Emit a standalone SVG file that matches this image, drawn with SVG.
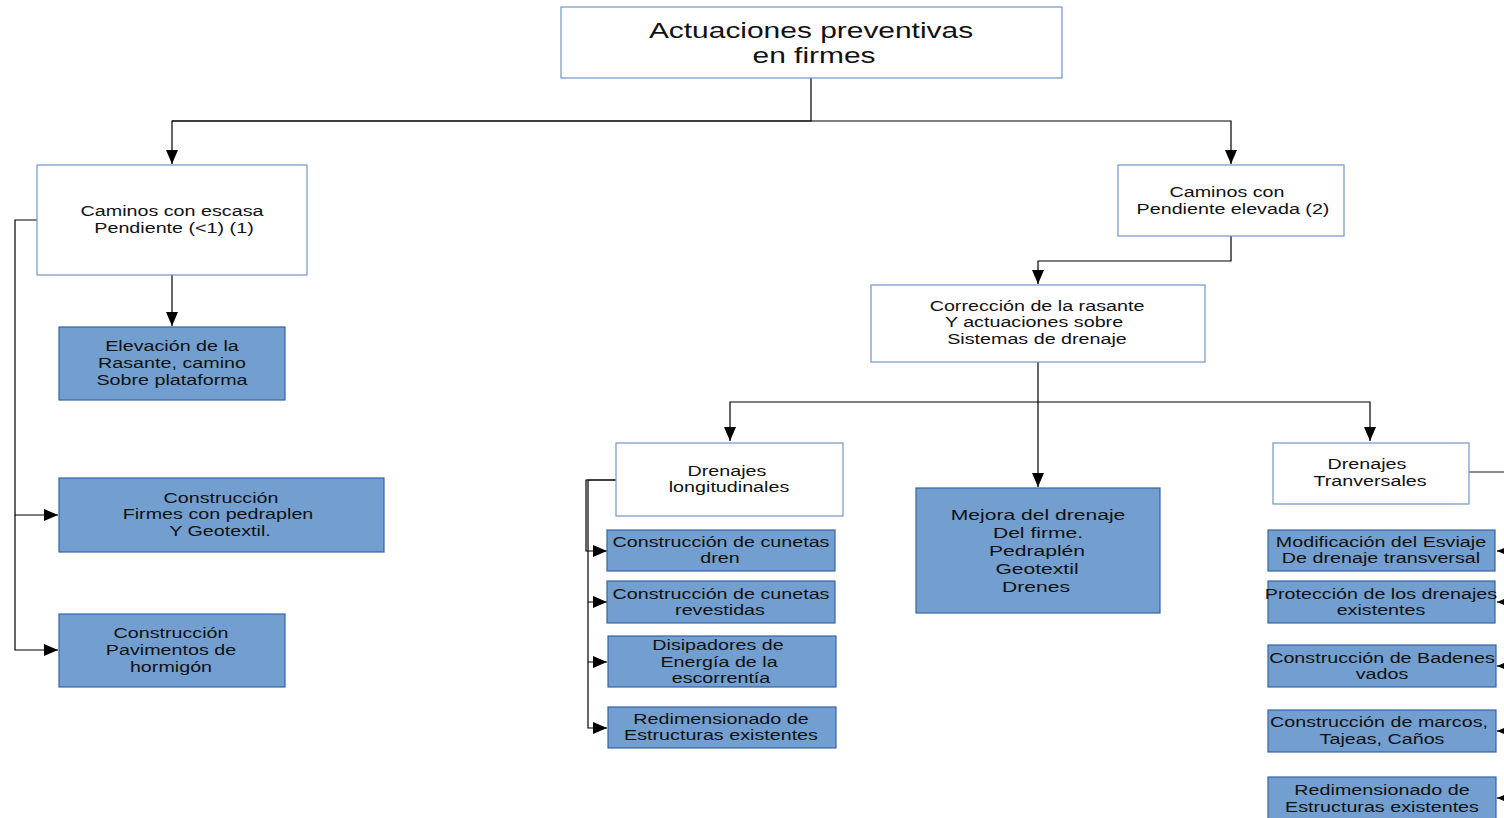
<svg xmlns="http://www.w3.org/2000/svg" width="1504" height="818" viewBox="0 0 1504 818">
<defs>
<marker id="arr" markerUnits="userSpaceOnUse" markerWidth="15" markerHeight="13" refX="14" refY="6" orient="auto">
<path d="M0,0 L14,6 L0,12 z" fill="#000"/>
</marker>
<style>
.w{fill:#fff;stroke:#7295c8;stroke-width:1.2}
.b{fill:#729fcf;stroke:#3465a4;stroke-width:1.2}
text{font-family:"Liberation Sans",Arial,sans-serif;fill:#111;text-anchor:middle}
.s{font-size:14.5px}
.m{font-size:15.5px}
.t{font-size:22px}
.c{fill:none;stroke:#000;stroke-width:1.2}
.ca{fill:none;stroke:#000;stroke-width:1.2;marker-end:url(#arr)}
</style>
</defs>
<rect width="1504" height="818" fill="#fff"/>
<g id="connectors">
<path class="c" d="M811,78 V121 H172"/>
<path class="ca" d="M811,121 H172 V164"/>
<path class="ca" d="M811,121 H1231 V164"/>
<path class="ca" d="M172,275 V326"/>
<path class="ca" d="M37,220 H15 V515 H58"/>
<path class="ca" d="M15,515 V650 H58"/>
<path class="ca" d="M1231,236 V261 H1038 V284"/>
<path class="ca" d="M1038,362 V487"/>
<path class="ca" d="M1038,402 H730 V441"/>
<path class="ca" d="M1038,402 H1370 V441"/>
<path class="ca" d="M616,480 H586 V551 H607"/>
<path class="ca" d="M616,480 H588 V602 H607"/>
<path class="ca" d="M588,602 V662 H607"/>
<path class="ca" d="M588,662 V728 H607"/>
<path fill="none" stroke="#666" stroke-width="1.4" d="M1469,472 H1510"/>
<path class="ca" d="M1515,551 H1497"/>
<path class="ca" d="M1515,602 H1497"/>
<path class="ca" d="M1515,666 H1497"/>
<path class="ca" d="M1515,731 H1497"/>
<path class="ca" d="M1515,798 H1497"/>
</g>
<g id="n-root">
<rect class="w" x="561" y="7" width="501" height="71"/>
<text class="t" transform="translate(811,0) scale(1.36,1)" x="0" y="38">Actuaciones preventivas</text>
<text class="t" transform="translate(814,0) scale(1.36,1)" x="0" y="63">en firmes</text>
</g>
<g id="n-escasa">
<rect class="w" x="37" y="165" width="270" height="110"/>
<text class="s" transform="translate(172,0) scale(1.36,1)" x="0" y="216">Caminos con escasa</text>
<text class="s" transform="translate(174,0) scale(1.36,1)" x="0" y="233">Pendiente (&lt;1) (1)</text>
</g>
<g id="n-elevacion">
<rect class="b" x="59" y="327" width="226" height="73"/>
<text class="s" transform="translate(172,0) scale(1.36,1)" x="0" y="351">Elevación de la</text>
<text class="s" transform="translate(172,0) scale(1.36,1)" x="0" y="368">Rasante, camino</text>
<text class="s" transform="translate(172,0) scale(1.36,1)" x="0" y="385">Sobre plataforma</text>
</g>
<g id="n-firmes">
<rect class="b" x="59" y="478" width="325" height="74"/>
<text class="s" transform="translate(221,0) scale(1.36,1)" x="0" y="503">Construcción</text>
<text class="s" transform="translate(218,0) scale(1.36,1)" x="0" y="519">Firmes con pedraplen</text>
<text class="s" transform="translate(220,0) scale(1.36,1)" x="0" y="536">Y Geotextil.</text>
</g>
<g id="n-pavimentos">
<rect class="b" x="59" y="614" width="226" height="73"/>
<text class="s" transform="translate(171,0) scale(1.36,1)" x="0" y="638">Construcción</text>
<text class="s" transform="translate(171,0) scale(1.36,1)" x="0" y="655">Pavimentos de</text>
<text class="s" transform="translate(171,0) scale(1.36,1)" x="0" y="672">hormigón</text>
</g>
<g id="n-elevada">
<rect class="w" x="1118" y="165" width="226" height="71"/>
<text class="s" transform="translate(1227,0) scale(1.36,1)" x="0" y="197">Caminos con</text>
<text class="s" transform="translate(1233,0) scale(1.36,1)" x="0" y="214">Pendiente elevada (2)</text>
</g>
<g id="n-correccion">
<rect class="w" x="871" y="285" width="334" height="77"/>
<text class="s" transform="translate(1037,0) scale(1.36,1)" x="0" y="311">Corrección de la rasante</text>
<text class="s" transform="translate(1034,0) scale(1.36,1)" x="0" y="327">Y actuaciones sobre</text>
<text class="s" transform="translate(1037,0) scale(1.36,1)" x="0" y="344">Sistemas de drenaje</text>
</g>
<g id="n-longitudinales">
<rect class="w" x="616" y="443" width="227" height="73"/>
<text class="s" transform="translate(727,0) scale(1.36,1)" x="0" y="476">Drenajes</text>
<text class="s" transform="translate(729,0) scale(1.36,1)" x="0" y="492">longitudinales</text>
</g>
<g id="n-mejora">
<rect class="b" x="916" y="488" width="244" height="125"/>
<text class="m" transform="translate(1038,0) scale(1.36,1)" x="0" y="520">Mejora del drenaje</text>
<text class="m" transform="translate(1038,0) scale(1.36,1)" x="0" y="538">Del firme.</text>
<text class="m" transform="translate(1037,0) scale(1.36,1)" x="0" y="556">Pedraplén</text>
<text class="m" transform="translate(1037,0) scale(1.36,1)" x="0" y="574">Geotextil</text>
<text class="m" transform="translate(1036,0) scale(1.36,1)" x="0" y="592">Drenes</text>
</g>
<g id="n-tranversales">
<rect class="w" x="1273" y="443" width="196" height="61"/>
<text class="s" transform="translate(1367,0) scale(1.36,1)" x="0" y="469">Drenajes</text>
<text class="s" transform="translate(1370,0) scale(1.36,1)" x="0" y="486">Tranversales</text>
</g>
<g id="n-cunetas-dren">
<rect class="b" x="607" y="530" width="228" height="41"/>
<text class="s" transform="translate(721,0) scale(1.36,1)" x="0" y="547">Construcción de cunetas</text>
<text class="s" transform="translate(720,0) scale(1.36,1)" x="0" y="563">dren</text>
</g>
<g id="n-cunetas-rev">
<rect class="b" x="607" y="581" width="228" height="42"/>
<text class="s" transform="translate(721,0) scale(1.36,1)" x="0" y="599">Construcción de cunetas</text>
<text class="s" transform="translate(720,0) scale(1.36,1)" x="0" y="615">revestidas</text>
</g>
<g id="n-disipadores">
<rect class="b" x="608" y="636" width="228" height="51"/>
<text class="s" transform="translate(718,0) scale(1.36,1)" x="0" y="650">Disipadores de</text>
<text class="s" transform="translate(719,0) scale(1.36,1)" x="0" y="667">Energía de la</text>
<text class="s" transform="translate(721,0) scale(1.36,1)" x="0" y="683">escorrentía</text>
</g>
<g id="n-redim-l">
<rect class="b" x="608" y="707" width="228" height="41"/>
<text class="s" transform="translate(721,0) scale(1.36,1)" x="0" y="724">Redimensionado de</text>
<text class="s" transform="translate(721,0) scale(1.36,1)" x="0" y="740">Estructuras existentes</text>
</g>
<g id="n-esviaje">
<rect class="b" x="1268" y="530" width="227" height="41"/>
<text class="s" transform="translate(1381,0) scale(1.36,1)" x="0" y="547">Modificación del Esviaje</text>
<text class="s" transform="translate(1381,0) scale(1.36,1)" x="0" y="563">De drenaje transversal</text>
</g>
<g id="n-proteccion">
<rect class="b" x="1268" y="581" width="227" height="42"/>
<text class="s" transform="translate(1381,0) scale(1.36,1)" x="0" y="599">Protección de los drenajes</text>
<text class="s" transform="translate(1381,0) scale(1.36,1)" x="0" y="615">existentes</text>
</g>
<g id="n-badenes">
<rect class="b" x="1268" y="645" width="228" height="42"/>
<text class="s" transform="translate(1382,0) scale(1.36,1)" x="0" y="663">Construcción de Badenes</text>
<text class="s" transform="translate(1382,0) scale(1.36,1)" x="0" y="679">vados</text>
</g>
<g id="n-marcos">
<rect class="b" x="1268" y="710" width="228" height="42"/>
<text class="s" transform="translate(1379,0) scale(1.36,1)" x="0" y="727">Construcción de marcos,</text>
<text class="s" transform="translate(1382,0) scale(1.36,1)" x="0" y="744">Tajeas, Caños</text>
</g>
<g id="n-redim-r">
<rect class="b" x="1268" y="777" width="228" height="45"/>
<text class="s" transform="translate(1382,0) scale(1.36,1)" x="0" y="795">Redimensionado de</text>
<text class="s" transform="translate(1382,0) scale(1.36,1)" x="0" y="812">Estructuras existentes</text>
</g>
</svg>
